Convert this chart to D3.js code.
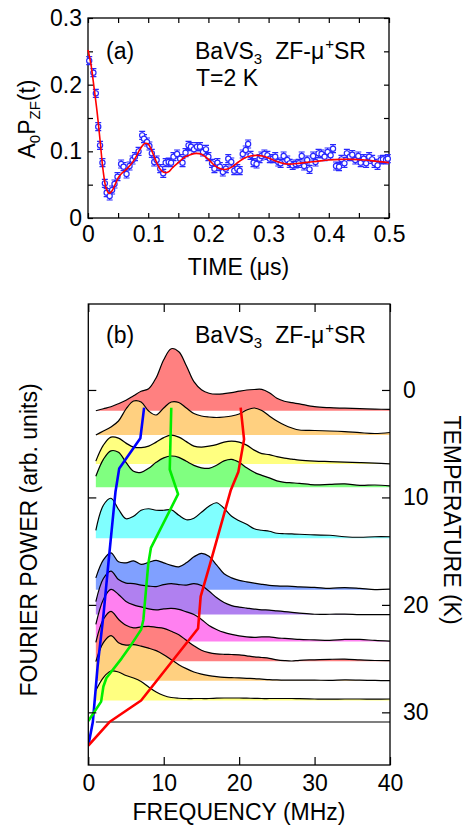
<!DOCTYPE html>
<html><head><meta charset="utf-8">
<script src="https://cdn.jsdelivr.net/npm/d3@7"></script>
<style>body{margin:0;background:#fff} text{font-family:"Liberation Sans",Arial,Helvetica,sans-serif;}</style>
</head><body><svg id="c" width="470" height="827"></svg>
<script>
// ---------- Panel (a) data ----------
const times = [0.002,0.009,0.013,0.017,0.020,0.024,0.028,0.031,0.036,0.040,0.044,0.049,0.055,0.059,0.064,0.069,0.074,0.078,0.084,0.090,0.093,0.098,0.102,0.106,0.110,0.114,0.120,0.125,0.129,0.134,0.138,0.142,0.148,0.153,0.157,0.162,0.167,0.171,0.176,0.181,0.186,0.191,0.196,0.200,0.206,0.210,0.215,0.219,0.224,0.229,0.233,0.238,0.243,0.248,0.252,0.257,0.262,0.266,0.270,0.275,0.280,0.285,0.288,0.293,0.298,0.302,0.307,0.311,0.316,0.320,0.325,0.331,0.335,0.340,0.345,0.350,0.355,0.359,0.364,0.368,0.374,0.378,0.383,0.388,0.393,0.398,0.403,0.407,0.412,0.417,0.421,0.426,0.430,0.435,0.439,0.444,0.449,0.453,0.458,0.462,0.467,0.472,0.476,0.481,0.486,0.490,0.495,0.498];
const asym = [0.236,0.218,0.187,0.137,0.109,0.083,0.052,0.038,0.033,0.042,0.051,0.062,0.081,0.077,0.066,0.078,0.087,0.092,0.100,0.124,0.119,0.114,0.108,0.097,0.084,0.087,0.074,0.067,0.083,0.084,0.083,0.092,0.096,0.089,0.083,0.098,0.109,0.107,0.103,0.107,0.107,0.099,0.103,0.092,0.082,0.074,0.083,0.077,0.069,0.074,0.089,0.084,0.071,0.074,0.071,0.096,0.102,0.111,0.094,0.083,0.081,0.089,0.093,0.096,0.094,0.089,0.089,0.092,0.084,0.082,0.093,0.087,0.082,0.079,0.081,0.082,0.093,0.078,0.087,0.073,0.093,0.084,0.097,0.096,0.092,0.099,0.094,0.104,0.078,0.077,0.088,0.082,0.097,0.092,0.095,0.087,0.093,0.083,0.089,0.082,0.092,0.088,0.082,0.079,0.087,0.088,0.087,0.089];
const errA = 0.006;
const fitT = [0,0.005,0.01,0.015,0.02,0.025,0.03,0.035,0.04,0.045,0.05,0.055,0.06,0.065,0.07,0.075,0.08,0.085,0.09,0.095,0.1,0.105,0.11,0.115,0.12,0.125,0.13,0.135,0.14,0.15,0.16,0.17,0.18,0.19,0.2,0.21,0.22,0.23,0.24,0.25,0.26,0.27,0.28,0.29,0.3,0.31,0.32,0.33,0.34,0.35,0.36,0.38,0.4,0.42,0.44,0.46,0.48,0.5];
const fitV = [0.252,0.230,0.196,0.160,0.117,0.072,0.045,0.037,0.041,0.050,0.060,0.066,0.070,0.074,0.079,0.085,0.092,0.101,0.108,0.112,0.111,0.103,0.092,0.081,0.073,0.069,0.068,0.070,0.075,0.083,0.091,0.095,0.097,0.095,0.088,0.079,0.074,0.073,0.077,0.084,0.090,0.093,0.094,0.093,0.090,0.086,0.083,0.081,0.081,0.082,0.083,0.085,0.087,0.088,0.088,0.087,0.085,0.083];
const xTicksA = [0,0.05,0.1,0.15,0.2,0.25,0.3,0.35,0.4,0.45,0.5];
const yTicksA = [0,0.05,0.1,0.15,0.2,0.25,0.3];

// ---------- Panel (b) data ----------
const freqs = [1,2,3,4,5,6,7,8,9,10,11,12,13,14,15,16,17,18,19,20,21,22,23,24,25,26,27,28,30,32,34,36,38,40];
const temps = [1.93,4.19,6.9,9.06,13.8,18.6,20.9,23.4,25.25,27.05,28.9,30.9];
const spec02 = [0,2,4,7,10.5,15,19.5,22,33,51,62,59,45,29,21,17.5,16.5,17,18,19.5,20.7,21.2,21.3,18,12.5,9.5,8,6.8,4,3,2.5,2,1.6,1.3];
const spec04 = [0,4,8,14,26,34,33,24,20,27,33,32.5,27,21.5,19,18,17.5,18,19,21,25,27,24.5,19,14,10,7,5,4.5,4,3.3,2.3,1.5,2.5];
const spec07 = [3,19,27,26,21,17,16.5,18,22,26.5,29,27,22.5,18,17,18,19.5,22,23,22,19,14,10.5,9.5,7.5,6,5,4,3,2.5,2,1.5,1,0.3];
const spec09 = [11,28,36.5,35,25,16,15,19,25,29.5,31.3,30,26,22,19.5,19,22,26.5,28,25,19.5,15,12,9.5,6.5,5,4.5,4,2.5,3,3.5,2,2.3,1.5];
const spec14 = [8,33,40,29,19.5,22,28,29.5,28,28,28.5,23,18.5,20,26,32,35.5,30,22,17.5,14,9.5,8,7,5,4.5,4.3,4,3.3,3,1.5,1,1.5,1.5];
const spec19 = [12,30,37,28,27,29,25.5,27.5,29.5,27,24.5,23,27,33,36.5,33.5,25,16,12,9.5,8,6.7,5.5,4.5,4,3.7,3.5,3,2.5,1.5,2.3,1.5,0.3,0.7];
const spec21 = [13,36,43.5,35,31.5,31,29.5,28.5,28,30,31,30,29.5,31,29,23.5,17,12,9,7.5,6.5,5.5,4.7,4.5,3.7,3,2.2,1.5,0.3,0.3,0.5,0,0,0];
const spec23 = [17,42,52,47,40,36.5,34.5,32.5,31.5,32.5,33,32,29.5,27,22,16,12,9,7,5.5,4.5,4,4.5,4.5,3.5,3,2.5,2,1.5,1,2,2,1,0.3];
const spec25 = [19,42,50,42,36,33.5,34.5,35,34,33,30,26.5,21,15.5,11,8.7,7.5,7,6.8,6.5,5.5,4.5,3.8,3,1.5,0.7,0.3,1,1.5,2,2.2,1.5,0.8,0.7];
const spec27 = [19,38,45,38,35.5,36,34.5,32.5,30,26,21,16,12,8.7,6.5,5,4,3.3,3,2.7,2.3,2,1.5,1,0.7,0.5,0.5,0.5,0.5,0.3,0.7,0.5,0.2,0];
const spec29 = [10,23,29.5,28.5,25,22.5,19,13.5,8.5,5,3,2.3,2,2,2,2,2.3,2.5,2.5,2.5,2.3,2.2,2,2,2,2,2,1.8,1.5,1.3,1.5,1.5,1.3,1.5];
const spec31 = [0,0,0,0,0,0,0,0,0,0,0,0,0,0,0,0,0,0,0,0,0,0,0,0,0,0,0,0,0,0,0,0,0,0];
const fills = ["#ff8080","#ffd080","#ffff80","#80ff80","#80ffff","#80a0ff","#b080f0","#ff80f0","#ff8080","#ffd080","#ffff80","#ffffff"];
const blueLine = [[7.4,1.65],[6.9,4.5],[4.1,7.3],[3.6,9.5],[2.75,15.5],[2.0,21.0],[1.25,25.6],[0.6,30.9],[0,33.1]];
const greenLine = [[11.0,1.65],[10.8,7.4],[11.9,9.7],[8.3,14.7],[7.95,16.2],[7.3,21.4],[7.0,22.3],[5.7,23.7],[4.4,25.0],[2.4,26.8],[2.0,27.6],[1.7,29.0],[0,30.8]];
const redLine = [[20.2,1.65],[20.65,4.6],[19.9,7.6],[18.9,9.3],[16.1,16.3],[14.9,19.2],[14.55,22.2],[7.0,28.9],[2.8,30.9],[0,33.1]];
const xTicksB = [0,10,20,30,40];
const tTicksB = [0,10,20,30];

const spectra = [spec02,spec04,spec07,spec09,spec14,spec19,spec21,spec23,spec25,spec27,spec29,spec31];

const svg = d3.select("#c");
const FONT = '"Liberation Sans",Arial,Helvetica,sans-serif';
const FS = 23;

function styleAxis(g){
  g.attr("font-family", FONT).attr("font-size", FS);
  g.select(".domain").remove();
  g.selectAll(".tick line").attr("stroke","#000").attr("stroke-width",1.2);
  g.selectAll(".tick text").attr("fill","#000");
}

// ---------- Panel (a) ----------
const xA = d3.scaleLinear().domain([0,0.5]).range([88,389]);
const yA = d3.scaleLinear().domain([0,0.3]).range([218,18]);
const fmtA = v => v===0 ? "0" : (Math.round(v*100)%10===0 ? d3.format(".1f")(v) : "");

svg.append("g").attr("transform","translate(0,218)")
  .call(d3.axisBottom(xA).tickValues(xTicksA).tickSize(-5).tickPadding(7.5).tickFormat(fmtA)).call(styleAxis);
svg.append("g").attr("transform","translate(0,18)")
  .call(d3.axisTop(xA).tickValues(xTicksA).tickSize(-5).tickFormat("")).call(styleAxis);
svg.append("g").attr("transform","translate(88,0)")
  .call(d3.axisLeft(yA).tickValues(yTicksA).tickSize(-5).tickPadding(6).tickFormat(fmtA)).call(styleAxis);
svg.append("g").attr("transform","translate(389,0)")
  .call(d3.axisRight(yA).tickValues(yTicksA).tickSize(-5).tickFormat("")).call(styleAxis);
svg.append("rect").attr("x",88).attr("y",18).attr("width",301).attr("height",200)
  .attr("fill","none").attr("stroke","#000").attr("stroke-width",1.3);

const blue = "#2828ff";
const gA = svg.append("g");
const pts = times.map((t,i)=>({t, v:asym[i]}));
gA.selectAll("path.eb").data(pts).enter().append("path")
  .attr("d", d => {
    const x = xA(d.t), y1 = yA(d.v+errA), y2 = yA(d.v-errA);
    return `M${x},${y1}V${y2}M${x-3},${y1}H${x+3}M${x-3},${y2}H${x+3}`;
  })
  .attr("stroke", blue).attr("stroke-width",1.1).attr("fill","none");
gA.selectAll("circle").data(pts).enter().append("circle")
  .attr("cx", d=>xA(d.t)).attr("cy", d=>yA(d.v)).attr("r",2.6)
  .attr("fill","#fff").attr("stroke",blue).attr("stroke-width",1.2);
svg.append("path").datum(fitT.map((t,i)=>[t,fitV[i]]))
  .attr("d", d3.line().x(d=>xA(d[0])).y(d=>yA(d[1])).curve(d3.curveCatmullRom))
  .attr("fill","none").attr("stroke","#ff0000").attr("stroke-width",1.6);

// texts panel (a)
svg.append("text").attr("x",106).attr("y",59).attr("font-size",FS).text("(a)");
function bavs(y){
  const t = svg.append("text").attr("x",195).attr("y",y).attr("font-size",FS);
  t.append("tspan").text("BaVS");
  t.append("tspan").attr("font-size",15).attr("dy",5).text("3");
  t.append("tspan").attr("dy",-5).attr("dx",13).text("ZF-\u03bc");
  t.append("tspan").attr("font-size",15).attr("dy",-10).attr("dx",1).text("+");
  t.append("tspan").attr("dy",10).text("SR");
}
bavs(59);
svg.append("text").attr("x",196).attr("y",86).attr("font-size",FS).text("T=2 K");
svg.append("text").attr("x",238.5).attr("y",275).attr("font-size",FS).attr("text-anchor","middle").text("TIME (\u03bcs)");
{
  const t = svg.append("text").attr("transform","translate(35,119) rotate(-90)").attr("text-anchor","middle").attr("font-size",FS);
  t.append("tspan").text("A");
  t.append("tspan").attr("font-size",15).attr("dy",5).text("0");
  t.append("tspan").attr("dy",-5).text("P");
  t.append("tspan").attr("font-size",15).attr("dy",5).text("ZF");
  t.append("tspan").attr("dy",-5).text("(t)");
}

// ---------- Panel (b) ----------
const xB = d3.scaleLinear().domain([0,40]).range([88.3,390]);
const tB = d3.scaleLinear().domain([-8,34.9]).range([304,765]);
const pB = d3.scaleLinear().domain([0,100]).range([0,100]);

const defs = svg.append("defs");
defs.append("clipPath").attr("id","clipB").append("rect").attr("x",88.3).attr("y",304).attr("width",301.7).attr("height",461);
const gB = svg.append("g").attr("clip-path","url(#clipB)");
temps.forEach((T,i)=>{
  const base = tB(T);
  const data = freqs.map((f,j)=>({f, p:spectra[i][j]}));
  gB.append("path").datum(data)
    .attr("d", d3.area().x(d=>xB(d.f)).y0(base).y1(d=>base-pB(d.p)).curve(d3.curveCatmullRom))
    .attr("fill", fills[i]).attr("stroke","none");
  gB.append("path").datum(data)
    .attr("d", d3.line().x(d=>xB(d.f)).y(d=>base-pB(d.p)).curve(d3.curveCatmullRom))
    .attr("fill","none").attr("stroke","#000").attr("stroke-width",1.2);
});
const lineB = d3.line().x(d=>xB(d[0])).y(d=>tB(d[1]));
[[blueLine,"#0000ff"],[greenLine,"#00ee00"],[redLine,"#ff0000"]].forEach(([L,c])=>{
  gB.append("path").datum(L).attr("d",lineB).attr("fill","none").attr("stroke",c)
    .attr("stroke-width",2.6).attr("stroke-linejoin","round");
});

svg.append("g").attr("transform","translate(0,765)")
  .call(d3.axisBottom(xB).tickValues(xTicksB).tickSize(-8).tickPadding(9.5).tickFormat(d3.format("d"))).call(styleAxis);
svg.append("g").attr("transform","translate(0,304)")
  .call(d3.axisTop(xB).tickValues(xTicksB).tickSize(-8).tickFormat("")).call(styleAxis);
svg.append("g").attr("transform","translate(88.3,0)")
  .call(d3.axisLeft(tB).tickValues(tTicksB).tickSize(-8).tickFormat("")).call(styleAxis);
svg.append("g").attr("transform","translate(390,0)")
  .call(d3.axisRight(tB).tickValues(tTicksB).tickSize(-8).tickPadding(13).tickFormat(d3.format("d"))).call(styleAxis);
svg.append("rect").attr("x",88.3).attr("y",304).attr("width",301.7).attr("height",461)
  .attr("fill","none").attr("stroke","#000").attr("stroke-width",1.3);

svg.append("text").attr("x",106).attr("y",343).attr("font-size",FS).text("(b)");
bavs(343);
svg.append("text").attr("x",239).attr("y",820).attr("font-size",FS).attr("text-anchor","middle").text("FREQUENCY (MHz)");
svg.append("text").attr("transform","translate(37,540) rotate(-90)").attr("text-anchor","middle").attr("font-size",FS).text("FOURIER POWER (arb. units)");
svg.append("text").attr("transform","translate(444,520) rotate(90)").attr("text-anchor","middle").attr("font-size",FS).text("TEMPERATURE (K)");
</script></body></html>
